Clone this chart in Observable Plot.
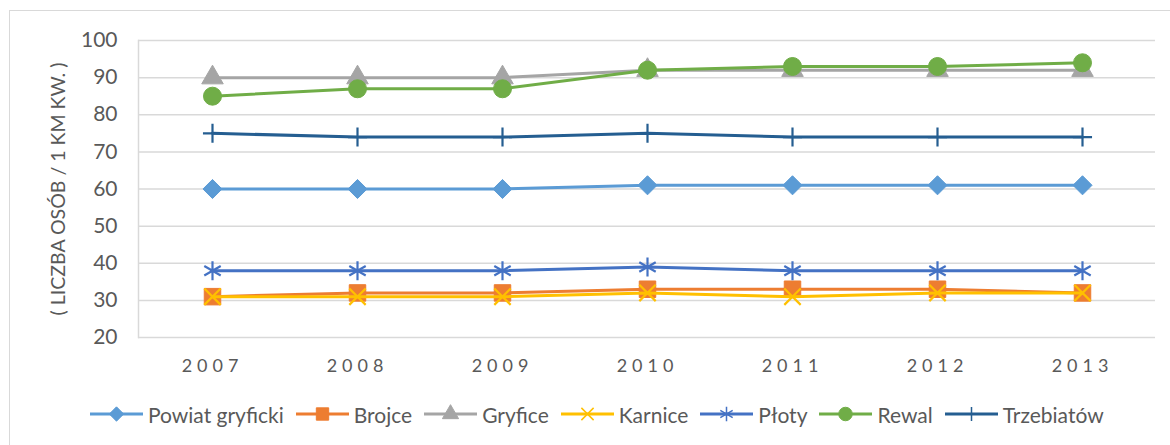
<!DOCTYPE html>
<html><head><meta charset="utf-8">
<script src="https://cdn.jsdelivr.net/npm/d3@7"></script>
<script src="https://cdn.jsdelivr.net/npm/@observablehq/plot@0.6"></script>
<style>
body{margin:0;background:#fff;font-family:Lato, "Liberation Sans", sans-serif;}
#wrap{position:relative;width:1170px;height:445px;overflow:hidden;background:#fff}
#border{position:absolute;left:9px;top:10px;width:1300px;height:600px;border-left:1.5px solid #d9d9d9;border-top:1.5px solid #d9d9d9;pointer-events:none}
#chart{position:absolute;left:0;top:0}
#legend{position:absolute;left:90px;top:401px;display:flex;align-items:center;font-size:21px;color:#595959;white-space:nowrap}
#legend .item{display:flex;align-items:center;margin-right:12px}
#legend svg{margin-right:5px}
g[aria-label="x-axis tick label"] text{letter-spacing:5px}
g[aria-label="y-axis label"] text{font-size:19.5px}
</style></head>
<body>
<div id="wrap"><div id="border"></div><div id="chart"></div><div id="legend"></div></div>
<script>
const years = ["2007","2008","2009","2010","2011","2012","2013"];
const seriesNames = ["Powiat gryficki","Brojce","Gryfice","Karnice","Płoty","Rewal","Trzebiatów"];
const powiatGryficki = [60,60,60,61,61,61,61];
const brojce = [31,32,32,33,33,33,32];
const gryfice = [90,90,90,92,92,92,92];
const karnice = [31,31,31,32,31,32,32];
const ploty = [38,38,38,39,38,38,38];
const rewal = [85,87,87,92,93,93,94];
const trzebiatow = [75,74,74,75,74,74,74];
const yTicks = [20,30,40,50,60,70,80,90,100];
const yLabel = "( LICZBA OSÓB / 1 KM KW. )";

const seriesValues = [powiatGryficki, brojce, gryfice, karnice, ploty, rewal, trzebiatow];
const colors = ["#5b9bd5","#ed7d31","#a5a5a5","#ffc000","#4472c4","#70ad47","#255e91"];
const symbols = ["diamond2","square","triangle","times","asterisk","circle","plus"];
const filled = [true,true,true,false,false,true,false];
const radii = [8.6,9.3,8,7.5,9,9,6.2];

const data = [];
seriesNames.forEach((s,i)=>years.forEach((y,j)=>data.push({series:s, year:y, value:seriesValues[i][j]})));

const marks = [
  Plot.gridY(yTicks, {stroke:"#d9d9d9", strokeOpacity:1, strokeWidth:1.5}),
  Plot.frame({anchor:"left", stroke:"#d9d9d9", strokeWidth:1.5}),
  Plot.axisX({tickSize:0, tickPadding:22, fontSize:18}),
  Plot.axisY({ticks:yTicks, tickSize:0, tickPadding:21, label:yLabel, labelAnchor:"center", labelOffset:87, labelArrow:"none"})
];
seriesNames.forEach((s,i)=>{
  const d = data.filter(r=>r.series===s);
  marks.push(Plot.line(d, {x:"year", y:"value", stroke:colors[i], strokeWidth:3}));
  marks.push(Plot.dot(d, {x:"year", y:"value", symbol:()=>symbols[i], r:radii[i],
    fill: filled[i] ? colors[i] : "none", stroke:colors[i], strokeWidth: filled[i] ? 1 : 2.2}));
});

const chart = Plot.plot({
  width:1170, height:395,
  marginLeft:138, marginRight:15, marginTop:40, marginBottom:58,
  style:{fontFamily:"Lato, 'Liberation Sans', sans-serif", fontSize:"21px", color:"#595959", background:"transparent", overflow:"visible"},
  x:{type:"point", domain:years, padding:0.5, label:null},
  y:{domain:[20,100], label:null},
  symbol:{type:"identity"},
  marks
});
document.getElementById("chart").appendChild(chart);

// legend
const legend = d3.select("#legend");
const legendSymbols = {diamond2:d3.symbolDiamond2, square:d3.symbolSquare, triangle:d3.symbolTriangle, times:d3.symbolTimes, asterisk:d3.symbolAsterisk, circle:d3.symbolCircle, plus:d3.symbolPlus};
seriesNames.forEach((s,i)=>{
  const item = legend.append("div").attr("class","item");
  const svg = item.append("svg").attr("width",53).attr("height",26);
  svg.append("line").attr("x1",0).attr("x2",53).attr("y1",13).attr("y2",13).attr("stroke",colors[i]).attr("stroke-width",3);
  const r = radii[i]*0.75;
  svg.append("path").attr("transform","translate(26.5,13)")
    .attr("d", d3.symbol(legendSymbols[symbols[i]], Math.PI*r*r)())
    .attr("fill", filled[i] ? colors[i] : "none").attr("stroke", colors[i]).attr("stroke-width", filled[i]?1:1.5);
  item.append("span").text(s);
});
</script>
</body></html>
